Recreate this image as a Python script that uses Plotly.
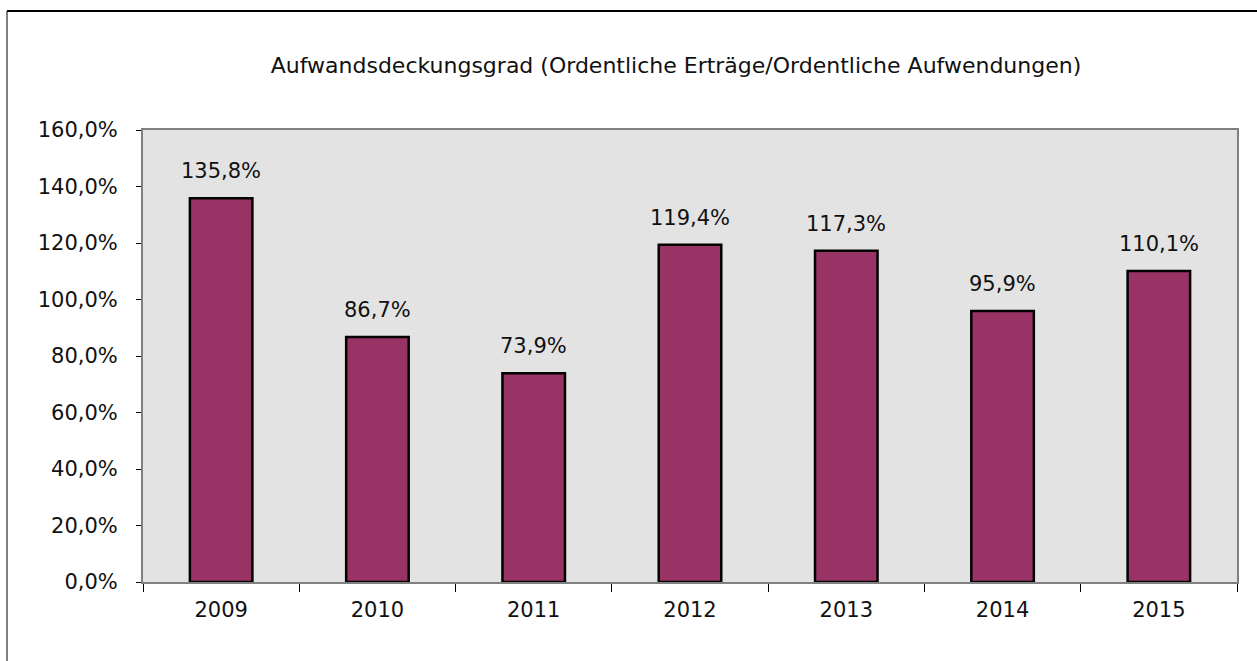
import plotly.graph_objects as go

years = ["2009", "2010", "2011", "2012", "2013", "2014", "2015"]
values = [135.8, 86.7, 73.9, 119.4, 117.3, 95.9, 110.1]
y_ticks = [0, 20, 40, 60, 80, 100, 120, 140, 160]
title_text = "Aufwandsdeckungsgrad (Ordentliche Erträge/Ordentliche Aufwendungen)"


def pct(v):
    return f"{v:.1f}".replace(".", ",") + "%"


y_tick_text = [pct(v) for v in y_ticks]
bar_labels = [pct(v) for v in values]

W, H = 1257, 661
L, R, T, B = 143, 20, 130, 79
pw, ph = W - L - R, H - T - B

font_family = "DejaVu Sans, Liberation Sans, Arial, sans-serif"
txt_color = "#111111"
fs = 21

fig = go.Figure(go.Bar(
    x=years, y=values,
    marker=dict(color="#993366", line=dict(color="black", width=2.5)),
    width=0.4,
    hoverinfo="x+y",
))

for i, (v, lab) in enumerate(zip(values, bar_labels)):
    fig.add_annotation(
        x=i, y=v, text=lab, showarrow=False,
        xanchor="center", yanchor="bottom", yshift=13,
        font=dict(size=fs, family=font_family, color=txt_color),
    )

fig.update_layout(
    width=W, height=H,
    margin=dict(l=L, r=R, t=T, b=B, pad=0),
    paper_bgcolor="white",
    plot_bgcolor="#e3e3e3",
    font=dict(family=font_family, size=fs, color=txt_color),
    title=dict(text=title_text, x=676 / W, xanchor="center",
               y=1 - 65 / H, yanchor="middle",
               font=dict(size=22, family=font_family, color=txt_color)),
    showlegend=False,
    xaxis=dict(
        type="category",
        range=[-0.5, len(years) - 0.5],
        tickson="boundaries",
        ticks="outside", ticklen=8, tickcolor="black", tickwidth=1,
        showline=True, linecolor="#808080", linewidth=2, mirror=True,
        showgrid=False,
        tickfont=dict(size=fs),
        tickangle=0,
        ticklabelstandoff=8,
        automargin=False,
    ),
    yaxis=dict(
        range=[0, 160],
        tickvals=y_ticks,
        ticktext=y_tick_text,
        ticks="outside", ticklen=5, tickcolor="black", tickwidth=1,
        showline=True, linecolor="#808080", linewidth=2, mirror=True,
        showgrid=False, zeroline=False,
        tickfont=dict(size=fs),
        ticklabelstandoff=14,
        automargin=False,
    ),
    shapes=[
        dict(type="line", xref="paper", yref="paper",
             x0=(7 - L) / pw, x1=(W - L) / pw,
             y0=(H - B - 11) / ph, y1=(H - B - 11) / ph,
             line=dict(color="black", width=2)),
        dict(type="line", xref="paper", yref="paper",
             x0=(7 - L) / pw, x1=(7 - L) / pw,
             y0=(H - B - 11) / ph, y1=-B / ph,
             line=dict(color="black", width=1)),
    ],
)

fig.write_html("out.html", config={"displayModeBar": False},
               post_script="document.body.style.margin='0';")
